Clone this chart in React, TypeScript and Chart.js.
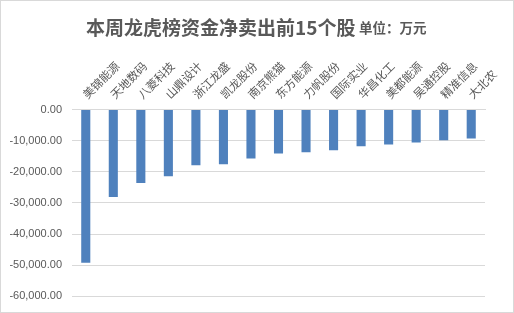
import React, { useEffect, useRef } from "react";
import { Chart, registerables } from "chart.js";

Chart.register(...registerables);

const categories = [
  "美锦能源", "天地数码", "八菱科技", "山鼎设计", "浙江龙盛",
  "凯龙股份", "南京熊猫", "东方能源", "力帆股份", "国际实业",
  "华昌化工", "美都能源", "吴通控股", "精准信息", "大北农",
];
const netSell = [
  -49200, -28100, -23600, -21400, -17900,
  -17600, -15700, -14100, -13700, -13100,
  -11800, -11200, -10600, -9900, -9300,
];
const yMin = -60000;
const yMax = 0;
const yStep = 10000;
const titleMain = "本周龙虎榜资金净卖出前15个股";
const titleUnit = "单位：万元";

const rotatedLabels = {
  id: "rotatedLabels",
  afterDraw(chart: any) {
    const xs = chart.scales.x;
    const ctx = chart.ctx;
    ctx.save();
    ctx.fillStyle = "#595959";
    ctx.font = "11.5px 'Noto Sans CJK SC', sans-serif";
    ctx.textAlign = "left";
    ctx.textBaseline = "middle";
    const labels: string[] = chart.data.labels;
    labels.forEach((lab, i) => {
      const x = xs.getPixelForValue(i);
      ctx.save();
      ctx.translate(x - 1, xs.bottom - 13);
      ctx.rotate(-Math.PI / 4);
      ctx.fillText(lab, 0, 0);
      ctx.restore();
    });
    ctx.restore();
  },
};

export default function App() {
  const ref = useRef<HTMLCanvasElement>(null);
  useEffect(() => {
    document.body.style.margin = "0";
    const ctx = ref.current!;
    const chart = new Chart(ctx, {
      type: "bar",
      data: {
        labels: categories,
        datasets: [
          {
            data: netSell,
            backgroundColor: "#4f81bd",
            borderWidth: 0,
            barPercentage: 0.33,
            categoryPercentage: 1,
          },
        ],
      },
      options: {
        responsive: false,
        animation: false,
        layout: { padding: { left: 0, top: 0, right: 29, bottom: 15 } },
        plugins: { legend: { display: false }, tooltip: { enabled: false }, title: { display: false } },
        scales: {
          x: {
            position: "top",
            grid: { display: false, drawTicks: false },
            border: { display: true, color: "#d9d9d9", width: 1 },
            ticks: { display: false },
            afterFit: (axis: any) => {
              axis.height = 109.5;
            },
          },
          y: {
            min: yMin,
            max: yMax,
            grid: { color: "#d9d9d9", drawTicks: false },
            border: { display: false },
            ticks: {
              stepSize: yStep,
              padding: 10,
              color: "#595959",
              font: { family: "'Liberation Sans', sans-serif", size: 11 },
              callback: (v: any) =>
                Number(v).toLocaleString("en-US", { minimumFractionDigits: 2, maximumFractionDigits: 2 }),
            },
            afterFit: (axis: any) => {
              axis.width = 72;
            },
          },
        },
      },
      plugins: [rotatedLabels],
    });
    return () => chart.destroy();
  }, []);

  return (
    <div
      style={{
        position: "fixed",
        left: 0,
        top: 0,
        width: 514,
        height: 313,
        background: "#fff",
      }}
    >
      <canvas ref={ref} width={514} height={313} style={{ position: "absolute", left: 0, top: 0 }} />
      <div
        style={{
          position: "absolute",
          left: 0,
          top: 0,
          width: 514,
          height: 313,
          boxSizing: "border-box",
          border: "1px solid #d9d9d9",
          pointerEvents: "none",
        }}
      />
      <span
        style={{
          position: "absolute",
          left: 86,
          top: 17,
          fontFamily: "'Noto Sans CJK SC', sans-serif",
          fontWeight: 700,
          fontSize: 19,
          lineHeight: 1,
          color: "#595959",
          whiteSpace: "nowrap",
        }}
      >
        {titleMain}
      </span>
      <span
        style={{
          position: "absolute",
          left: 359,
          top: 21,
          fontFamily: "'Noto Sans CJK SC', sans-serif",
          fontWeight: 700,
          fontSize: 13.5,
          lineHeight: 1,
          color: "#595959",
          whiteSpace: "nowrap",
        }}
      >
        {titleUnit}
      </span>
    </div>
  );
}
